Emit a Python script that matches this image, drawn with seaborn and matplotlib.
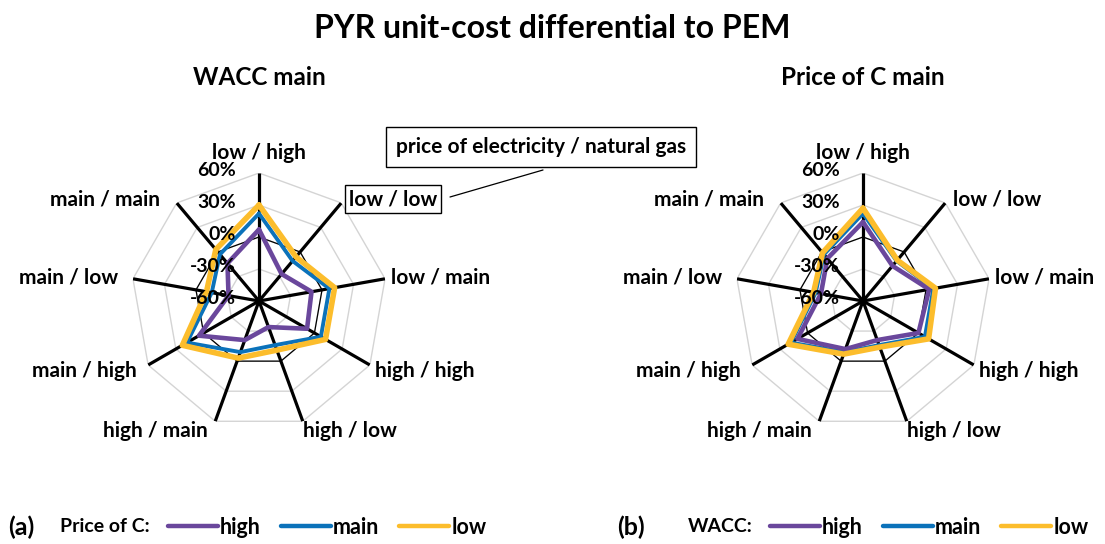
import numpy as np
import pandas as pd
import matplotlib
matplotlib.use('Agg')
import matplotlib.pyplot as plt
import seaborn as sns
from matplotlib.lines import Line2D

# ---- data (in %) ----
categories = ['low / high', 'low / low', 'low / main', 'high / high', 'high / low',
              'high / main', 'main / high', 'main / low', 'main / main']
tick_values = [-60, -30, 0, 30, 60]
tick_labels = ['-60%', '-30%', '0%', '30%', '60%']
series_names = ['high', 'main', 'low']

# (a) WACC main, price of C varies
a_high = [7, -27, -10, -8, -34, -21, 5, -31, -14]
a_main = [22, -11, 7, 7, -16, -9, 18, -15, -3]
a_low = [30, -6, 12, 12, -11, -3, 23, -10, 3]

# (b) price of C main, WACC varies
b_high = [14, -17, 3, 0, -21, -12, 11, -20, -8]
b_main = [22, -11, 7, 7, -16, -9, 18, -15, -3]
b_low = [27, -10, 9, 11, -14, -7, 21, -13, -1]

# ---- styles / layout ----
W, H = 1105, 544
colors = {'high': '#6A479C', 'main': '#0B72BA', 'low': '#FCBD2C'}
widths = {'high': 3.3, 'main': 2.8, 'low': 4.0}
font = 'Lato'
# label centres relative to radar centre, in pixels (dx right, dy down)
label_offsets = [(0, -148), (134, -102), (182, -23), (166, 70), (91, 130),
                 (-104, 130), (-175, 70), (-190, -23), (-154, -102)]
RADIUS = 128
LBL = 15

sns.set_style('white')
plt.rcParams['font.family'] = [font, 'DejaVu Sans']
plt.rcParams['text.color'] = 'black'

fig = plt.figure(figsize=(W / 100, H / 100), dpi=100)

theta = np.linspace(0, 2 * np.pi, len(categories), endpoint=False)
theta_closed = np.append(theta, 2 * np.pi)


def to_long(values):
    rows = []
    for name, vals in zip(series_names, values):
        for t, v in zip(theta_closed, list(vals) + [vals[0]]):
            rows.append({'theta': t, 'value': v, 'series': name})
    return pd.DataFrame(rows)


def draw_radar(cx, cy, title, values, boxed=False):
    rect = [(cx - RADIUS) / W, (H - cy - RADIUS) / H, 2 * RADIUS / W, 2 * RADIUS / H]
    ax = fig.add_axes(rect, projection='polar')
    ax.set_theta_zero_location('N')
    ax.set_theta_direction(-1)
    ax.set_ylim(-60, 60)
    ax.set_axis_off()

    # grid rings (nonagons)
    for v in tick_values[1:]:
        ax.plot(theta_closed, [v] * len(theta_closed), color='#D4D4D4', lw=1.0, zorder=1)
    ax.plot(theta_closed, [0] * len(theta_closed), color='black', lw=0.9, zorder=1.2)
    # spokes
    for t in theta:
        ax.plot([t, t], [-60, 60], color='black', lw=2.3, zorder=1.1, solid_capstyle='butt')

    df = to_long(values)
    sns.lineplot(data=df, x='theta', y='value', hue='series', size='series',
                 hue_order=['main', 'high', 'low'], palette=colors, sizes=widths,
                 sort=False, estimator=None, legend=False, ax=ax,
                 solid_joinstyle='round', solid_capstyle='round', zorder=3)
    ax.set_axis_off()

    for v, lab in zip(tick_values, tick_labels):
        ax.annotate(lab, xy=(0, v), xytext=(-16.5, 1.5), textcoords='offset points',
                    ha='right', va='center', fontsize=14, fontweight='bold', zorder=5)

    for i, (cat, (dx, dy)) in enumerate(zip(categories, label_offsets)):
        kw = {}
        if boxed and i == 1:
            kw['bbox'] = dict(boxstyle='square,pad=0.2', fc='white', ec='black', lw=1.0)
        ax.annotate(cat, xy=(0, -60), xytext=(dx * 0.72, -dy * 0.72),
                    textcoords='offset points', ha='center', va='center',
                    fontsize=LBL, fontweight='bold', annotation_clip=False, **kw)

    fig.text(cx / W, 1 - 78 / H, title, ha='center', va='center',
             fontsize=17.5, fontweight='bold')
    return ax


axa = draw_radar(259, 301, 'WACC main', [a_high, a_main, a_low], boxed=True)
axb = draw_radar(863, 301, 'Price of C main', [b_high, b_main, b_low])

fig.text(0.5, 1 - 28 / H, 'PYR unit-cost differential to PEM', ha='center', va='center',
         fontsize=23, fontweight='bold')

# callout box
fig.text(541 / W, 1 - 147 / H, 'price of electricity / natural gas', ha='center', va='center',
         fontsize=LBL, fontweight='bold',
         bbox=dict(boxstyle='square,pad=0.5', fc='white', ec='black', lw=1.0))
fig.add_artist(Line2D([450 / W, 543 / W], [1 - 197 / H, 1 - 170 / H], color='black', lw=0.9))

# legends
handles = [Line2D([], [], color=colors[n], lw=3.2, solid_capstyle='round') for n in series_names]
for tag, tag_x, head, head_x, leg_x in [('(a)', 8, 'Price of C:', 60, 168),
                                       ('(b)', 617, 'WACC:', 688, 770)]:
    fig.text(tag_x / W, 1 - 527 / H, tag, ha='left', va='center', fontsize=18, fontweight='bold')
    fig.text(head_x / W, 1 - 527 / H, head, ha='left', va='center', fontsize=14, fontweight='bold')
    fig.legend(handles, series_names, loc='center left', bbox_to_anchor=(leg_x / W, 1 - 527 / H),
               ncol=3, frameon=False, handlelength=2.3, handletextpad=0.1, columnspacing=0.95,
               borderpad=0, borderaxespad=0, labelcolor='black',
               prop={'weight': 'bold', 'size': 15.5, 'family': font})

fig.savefig('out.png', dpi=100)
